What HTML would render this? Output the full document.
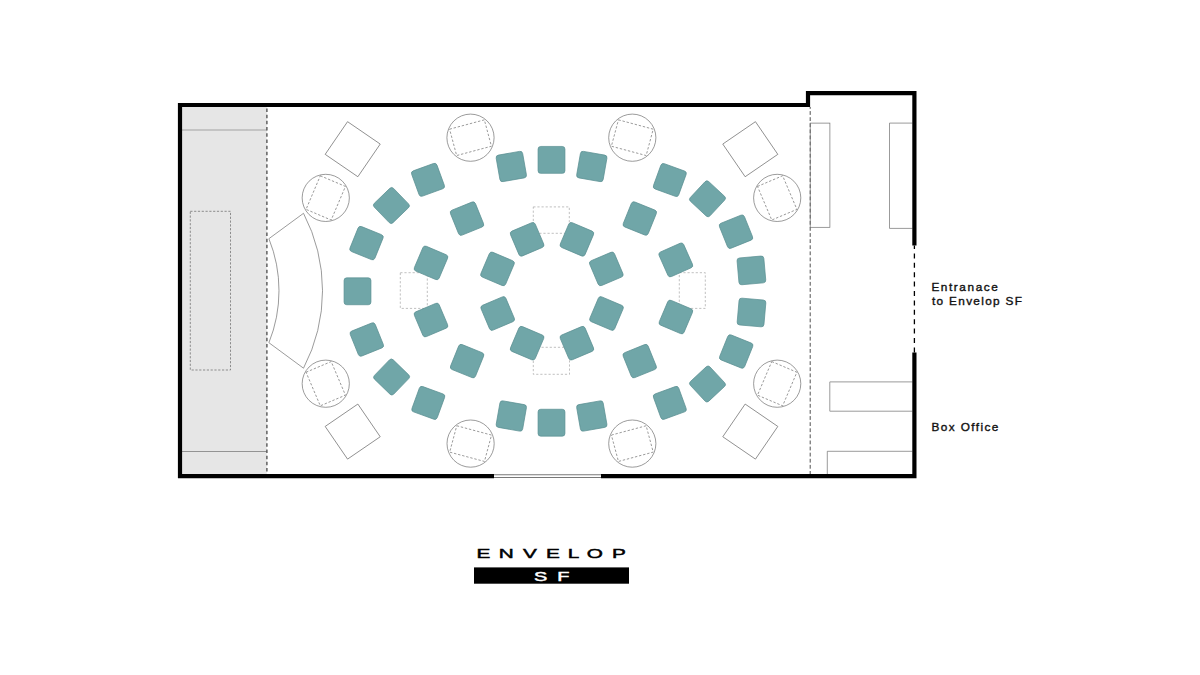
<!DOCTYPE html>
<html lang="en"><head><meta charset="utf-8"><title>Envelop SF floor plan</title>
<style>html,body{margin:0;padding:0;background:#fff}body{width:1200px;height:675px;overflow:hidden}svg{display:block}text{font-family:"Liberation Sans",sans-serif}</style>
</head><body>
<svg width="1200" height="675" viewBox="0 0 1200 675">
<rect width="1200" height="675" fill="#fff"/>
<g id="stage">
<rect x="181" y="106" width="85.8" height="369" fill="#e6e6e6"/>
<path d="M182 130H266.8" stroke="#a2a2a2" stroke-width="1.2" fill="none"/>
<path d="M182 451.5H266.8" stroke="#7e7e7e" stroke-width="0.8" fill="none"/>
<rect x="190.3" y="211.3" width="40.2" height="158.7" fill="none" stroke="#666" stroke-width="0.7" stroke-dasharray="2.2 1.6"/>
<path d="M266.9 107V474" stroke="#505050" stroke-width="1.35" stroke-dasharray="3.5 2.7" stroke-dashoffset="4.75" fill="none"/>
</g>
<path d="M303.5 213.3 L268.9 238.7 A139 139 0 0 1 268.9 342.7 L303.5 368.2 A167 167 0 0 0 303.5 213.3 Z" fill="#fff" stroke="#707070" stroke-width="0.7"/>
<g id="lobby" fill="none">
<path d="M810.2 107V474" stroke="#3c3c3c" stroke-width="0.9" stroke-dasharray="3.8 2.3" stroke-dashoffset="2"/>
<rect x="810.2" y="123.1" width="19.7" height="104.2" stroke="#707070" stroke-width="0.7"/>
<path d="M912.5 123.1H889.5V228.4H912.5" stroke="#707070" stroke-width="0.7"/>
<path d="M912.5 381.9H829.8V411.2H912.5" stroke="#9a9a9a" stroke-width="1"/>
<path d="M912.5 451.3H827.3V474.5" stroke="#707070" stroke-width="0.7"/>
<path d="M914.4 245.6V352.5" stroke="#000" stroke-width="1.3" stroke-dasharray="5 4.4" stroke-dashoffset="1.6"/>
</g>
<rect x="-19.8" y="-19.8" width="39.6" height="39.6" transform="translate(352.7 149.2) rotate(34.4)" fill="#fff" stroke="#707070" stroke-width="0.7"/>
<rect x="-19.8" y="-19.8" width="39.6" height="39.6" transform="translate(750.3 149.2) rotate(-34.4)" fill="#fff" stroke="#707070" stroke-width="0.7"/>
<rect x="-19.8" y="-19.8" width="39.6" height="39.6" transform="translate(352.7 431.6) rotate(-34.4)" fill="#fff" stroke="#707070" stroke-width="0.7"/>
<rect x="-19.8" y="-19.8" width="39.6" height="39.6" transform="translate(750.3 431.6) rotate(34.4)" fill="#fff" stroke="#707070" stroke-width="0.7"/>
<circle cx="470.5" cy="137.7" r="23.6" fill="#fff" stroke="#707070" stroke-width="0.7"/>
<rect x="-18.0" y="-13.65" width="36" height="27.3" transform="translate(470.5 137.7) rotate(-15)" fill="none" stroke="#7c7c7c" stroke-width="0.7" stroke-dasharray="2.4 1.8"/>
<circle cx="632.3" cy="137.7" r="23.6" fill="#fff" stroke="#707070" stroke-width="0.7"/>
<rect x="-18.0" y="-13.65" width="36" height="27.3" transform="translate(632.3 137.7) rotate(15)" fill="none" stroke="#7c7c7c" stroke-width="0.7" stroke-dasharray="2.4 1.8"/>
<circle cx="470.6" cy="443.6" r="23.6" fill="#fff" stroke="#707070" stroke-width="0.7"/>
<rect x="-18.0" y="-13.65" width="36" height="27.3" transform="translate(470.6 443.6) rotate(15)" fill="none" stroke="#7c7c7c" stroke-width="0.7" stroke-dasharray="2.4 1.8"/>
<circle cx="632.3" cy="443.6" r="23.6" fill="#fff" stroke="#707070" stroke-width="0.7"/>
<rect x="-18.0" y="-13.65" width="36" height="27.3" transform="translate(632.3 443.6) rotate(-15)" fill="none" stroke="#7c7c7c" stroke-width="0.7" stroke-dasharray="2.4 1.8"/>
<circle cx="325.75" cy="197.9" r="23.6" fill="#fff" stroke="#707070" stroke-width="0.7"/>
<rect x="-13.65" y="-18.25" width="27.3" height="36.5" transform="translate(325.75 197.9) rotate(23)" fill="none" stroke="#7c7c7c" stroke-width="0.7" stroke-dasharray="2.4 1.8"/>
<circle cx="777.2" cy="197.9" r="23.6" fill="#fff" stroke="#707070" stroke-width="0.7"/>
<rect x="-13.65" y="-18.25" width="27.3" height="36.5" transform="translate(777.2 197.9) rotate(-23)" fill="none" stroke="#7c7c7c" stroke-width="0.7" stroke-dasharray="2.4 1.8"/>
<circle cx="325.75" cy="383.7" r="23.6" fill="#fff" stroke="#707070" stroke-width="0.7"/>
<rect x="-13.65" y="-18.25" width="27.3" height="36.5" transform="translate(325.75 383.7) rotate(-23)" fill="none" stroke="#7c7c7c" stroke-width="0.7" stroke-dasharray="2.4 1.8"/>
<circle cx="777.2" cy="383.7" r="23.6" fill="#fff" stroke="#707070" stroke-width="0.7"/>
<rect x="-13.65" y="-18.25" width="27.3" height="36.5" transform="translate(777.2 383.7) rotate(23)" fill="none" stroke="#7c7c7c" stroke-width="0.7" stroke-dasharray="2.4 1.8"/>
<rect x="533.3" y="206.9" width="36.0" height="26.4" fill="none" stroke="#a6a6a6" stroke-width="0.7" stroke-dasharray="2.2 1.9"/>
<rect x="533.3" y="347.3" width="36.2" height="27.0" fill="none" stroke="#a6a6a6" stroke-width="0.7" stroke-dasharray="2.2 1.9"/>
<rect x="400.3" y="272.7" width="27.0" height="35.7" fill="none" stroke="#a6a6a6" stroke-width="0.7" stroke-dasharray="2.2 1.9"/>
<rect x="679.3" y="272.7" width="26.0" height="35.7" fill="none" stroke="#a6a6a6" stroke-width="0.7" stroke-dasharray="2.2 1.9"/>
<g id="chairs">
<rect x="-13.45" y="-13.45" width="26.9" height="26.9" rx="2.7" ry="2.7" transform="translate(551.5 159.9) rotate(0)" fill="#70a6a8" stroke="#5a8f92" stroke-width="0.7"/>
<rect x="-13.45" y="-13.45" width="26.9" height="26.9" rx="2.7" ry="2.7" transform="translate(591.8 166.5) rotate(10)" fill="#70a6a8" stroke="#5a8f92" stroke-width="0.7"/>
<rect x="-13.45" y="-13.45" width="26.9" height="26.9" rx="2.7" ry="2.7" transform="translate(669.8 180) rotate(20)" fill="#70a6a8" stroke="#5a8f92" stroke-width="0.7"/>
<rect x="-13.45" y="-13.45" width="26.9" height="26.9" rx="2.7" ry="2.7" transform="translate(707.5 198.8) rotate(43)" fill="#70a6a8" stroke="#5a8f92" stroke-width="0.7"/>
<rect x="-13.45" y="-13.45" width="26.9" height="26.9" rx="2.7" ry="2.7" transform="translate(736 231.7) rotate(-22)" fill="#70a6a8" stroke="#5a8f92" stroke-width="0.7"/>
<rect x="-13.45" y="-13.45" width="26.9" height="26.9" rx="2.7" ry="2.7" transform="translate(751.4 270.4) rotate(-5)" fill="#70a6a8" stroke="#5a8f92" stroke-width="0.7"/>
<rect x="-13.45" y="-13.45" width="26.9" height="26.9" rx="2.7" ry="2.7" transform="translate(751.5 312.5) rotate(5)" fill="#70a6a8" stroke="#5a8f92" stroke-width="0.7"/>
<rect x="-13.45" y="-13.45" width="26.9" height="26.9" rx="2.7" ry="2.7" transform="translate(736.2 351.5) rotate(22)" fill="#70a6a8" stroke="#5a8f92" stroke-width="0.7"/>
<rect x="-13.45" y="-13.45" width="26.9" height="26.9" rx="2.7" ry="2.7" transform="translate(707.5 384) rotate(-43)" fill="#70a6a8" stroke="#5a8f92" stroke-width="0.7"/>
<rect x="-13.45" y="-13.45" width="26.9" height="26.9" rx="2.7" ry="2.7" transform="translate(669.8 402.9) rotate(-20)" fill="#70a6a8" stroke="#5a8f92" stroke-width="0.7"/>
<rect x="-13.45" y="-13.45" width="26.9" height="26.9" rx="2.7" ry="2.7" transform="translate(591.8 416) rotate(-10)" fill="#70a6a8" stroke="#5a8f92" stroke-width="0.7"/>
<rect x="-13.45" y="-13.45" width="26.9" height="26.9" rx="2.7" ry="2.7" transform="translate(551.5 422.7) rotate(0)" fill="#70a6a8" stroke="#5a8f92" stroke-width="0.7"/>
<rect x="-13.45" y="-13.45" width="26.9" height="26.9" rx="2.7" ry="2.7" transform="translate(511.3 416) rotate(10)" fill="#70a6a8" stroke="#5a8f92" stroke-width="0.7"/>
<rect x="-13.45" y="-13.45" width="26.9" height="26.9" rx="2.7" ry="2.7" transform="translate(428.3 402.9) rotate(20)" fill="#70a6a8" stroke="#5a8f92" stroke-width="0.7"/>
<rect x="-13.45" y="-13.45" width="26.9" height="26.9" rx="2.7" ry="2.7" transform="translate(391.6 377) rotate(44)" fill="#70a6a8" stroke="#5a8f92" stroke-width="0.7"/>
<rect x="-13.45" y="-13.45" width="26.9" height="26.9" rx="2.7" ry="2.7" transform="translate(366.8 339.5) rotate(-22)" fill="#70a6a8" stroke="#5a8f92" stroke-width="0.7"/>
<rect x="-13.45" y="-13.45" width="26.9" height="26.9" rx="2.7" ry="2.7" transform="translate(357.5 291.3) rotate(0)" fill="#70a6a8" stroke="#5a8f92" stroke-width="0.7"/>
<rect x="-13.45" y="-13.45" width="26.9" height="26.9" rx="2.7" ry="2.7" transform="translate(366.5 243.1) rotate(22)" fill="#70a6a8" stroke="#5a8f92" stroke-width="0.7"/>
<rect x="-13.45" y="-13.45" width="26.9" height="26.9" rx="2.7" ry="2.7" transform="translate(391.4 205.5) rotate(-44)" fill="#70a6a8" stroke="#5a8f92" stroke-width="0.7"/>
<rect x="-13.45" y="-13.45" width="26.9" height="26.9" rx="2.7" ry="2.7" transform="translate(428 179.8) rotate(-20)" fill="#70a6a8" stroke="#5a8f92" stroke-width="0.7"/>
<rect x="-13.45" y="-13.45" width="26.9" height="26.9" rx="2.7" ry="2.7" transform="translate(511.3 166.5) rotate(-10)" fill="#70a6a8" stroke="#5a8f92" stroke-width="0.7"/>
<rect x="-13.45" y="-13.45" width="26.9" height="26.9" rx="2.7" ry="2.7" transform="translate(467 218.6) rotate(-22)" fill="#70a6a8" stroke="#5a8f92" stroke-width="0.7"/>
<rect x="-13.45" y="-13.45" width="26.9" height="26.9" rx="2.7" ry="2.7" transform="translate(431 262.9) rotate(23)" fill="#70a6a8" stroke="#5a8f92" stroke-width="0.7"/>
<rect x="-13.45" y="-13.45" width="26.9" height="26.9" rx="2.7" ry="2.7" transform="translate(431 320) rotate(-23)" fill="#70a6a8" stroke="#5a8f92" stroke-width="0.7"/>
<rect x="-13.45" y="-13.45" width="26.9" height="26.9" rx="2.7" ry="2.7" transform="translate(467.1 361.1) rotate(22)" fill="#70a6a8" stroke="#5a8f92" stroke-width="0.7"/>
<rect x="-13.45" y="-13.45" width="26.9" height="26.9" rx="2.7" ry="2.7" transform="translate(639.8 218.5) rotate(22)" fill="#70a6a8" stroke="#5a8f92" stroke-width="0.7"/>
<rect x="-13.45" y="-13.45" width="26.9" height="26.9" rx="2.7" ry="2.7" transform="translate(675.8 259.9) rotate(-24)" fill="#70a6a8" stroke="#5a8f92" stroke-width="0.7"/>
<rect x="-13.45" y="-13.45" width="26.9" height="26.9" rx="2.7" ry="2.7" transform="translate(675.9 317) rotate(23)" fill="#70a6a8" stroke="#5a8f92" stroke-width="0.7"/>
<rect x="-13.45" y="-13.45" width="26.9" height="26.9" rx="2.7" ry="2.7" transform="translate(639.7 361.1) rotate(-22)" fill="#70a6a8" stroke="#5a8f92" stroke-width="0.7"/>
<rect x="-13.45" y="-13.45" width="26.9" height="26.9" rx="2.7" ry="2.7" transform="translate(527.1 239.3) rotate(-23)" fill="#70a6a8" stroke="#5a8f92" stroke-width="0.7"/>
<rect x="-13.45" y="-13.45" width="26.9" height="26.9" rx="2.7" ry="2.7" transform="translate(576.9 239.3) rotate(23)" fill="#70a6a8" stroke="#5a8f92" stroke-width="0.7"/>
<rect x="-13.45" y="-13.45" width="26.9" height="26.9" rx="2.7" ry="2.7" transform="translate(497.5 268.9) rotate(23)" fill="#70a6a8" stroke="#5a8f92" stroke-width="0.7"/>
<rect x="-13.45" y="-13.45" width="26.9" height="26.9" rx="2.7" ry="2.7" transform="translate(606.3 268.9) rotate(-23)" fill="#70a6a8" stroke="#5a8f92" stroke-width="0.7"/>
<rect x="-13.45" y="-13.45" width="26.9" height="26.9" rx="2.7" ry="2.7" transform="translate(497.7 313.5) rotate(-23)" fill="#70a6a8" stroke="#5a8f92" stroke-width="0.7"/>
<rect x="-13.45" y="-13.45" width="26.9" height="26.9" rx="2.7" ry="2.7" transform="translate(606.5 313.5) rotate(23)" fill="#70a6a8" stroke="#5a8f92" stroke-width="0.7"/>
<rect x="-13.45" y="-13.45" width="26.9" height="26.9" rx="2.7" ry="2.7" transform="translate(527.1 343.2) rotate(23)" fill="#70a6a8" stroke="#5a8f92" stroke-width="0.7"/>
<rect x="-13.45" y="-13.45" width="26.9" height="26.9" rx="2.7" ry="2.7" transform="translate(576.9 343.2) rotate(-23)" fill="#70a6a8" stroke="#5a8f92" stroke-width="0.7"/>
</g>
<g id="walls" fill="none" stroke="#000" stroke-width="4.2" stroke-linejoin="miter" stroke-linecap="butt">
<path d="M494 476.05H180V105H808V93.1H914.4V245.6"/>
<path d="M601 476.05H914.4V352.5"/>
</g>
<path d="M494 474.75H601M494 477.5H601" stroke="#555" stroke-width="0.8" fill="none"/>
<g font-size="11.8" fill="#111" stroke="#111" stroke-width="0.38" stroke-linejoin="round">
<text x="931.4" y="290.5" letter-spacing="1.58">Entranace</text>
<text x="932" y="304.7" letter-spacing="1.32">to Envelop SF</text>
<text x="931.4" y="430.5" letter-spacing="1.42">Box Office</text>
</g>
<text transform="scale(1.62 1)" x="294.16 307.86 322.79 337.03 350.53 362.27 377.86" y="557.8" font-size="12.8" fill="#000" stroke="#000" stroke-width="0.45" stroke-linejoin="miter">ENVELOP</text>
<rect x="474" y="567.4" width="155" height="16.3" fill="#000"/>
<text transform="scale(1.62 1)" x="329.70 343.95" y="580.6" font-size="12.3" fill="#fff" stroke="#fff" stroke-width="0.45" stroke-linejoin="miter">SF</text>
</svg></body></html>
